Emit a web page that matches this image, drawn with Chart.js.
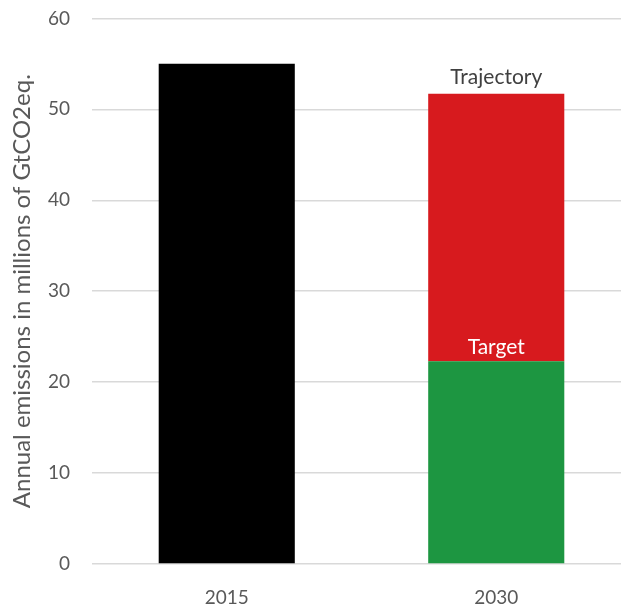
<!DOCTYPE html>
<html>
<head>
<meta charset="utf-8">
<script src="https://cdn.jsdelivr.net/npm/chart.js@4/dist/chart.umd.min.js"></script>
<style>
  html, body { margin: 0; padding: 0; background: #fff; overflow: hidden; }
  #wrap { width: 631px; height: 623px; margin-top: -15px; }
</style>
</head>
<body>
<div id="wrap"><canvas id="chart-area"></canvas></div>
<script>
// emissions per year, GtCO2eq
var years = ["2015", "2030"];
var emissions2015 = [55, null];
var target2030 = [null, 22.3];
var trajectory2030 = [null, 51.7];
var segmentLabels = ["Trajectory", "Target"];
var yTicks = [0, 10, 20, 30, 40, 50, 60];

// red part sits on top of the green target bar
var trajectoryGap = trajectory2030.map(function (v, i) {
    return v === null ? null : v - target2030[i];
});

var fontFamily = "Lato, 'Open Sans', sans-serif";

// writes the two text labels on the 2030 column
var segmentText = {
    id: 'segmentText',
    afterDatasetsDraw: function (chart) {
        var ctx = chart.ctx;
        var bar = chart.getDatasetMeta(2).data[1];
        var green = chart.getDatasetMeta(1).data[1];
        ctx.save();
        ctx.font = "21px " + fontFamily;
        ctx.textAlign = 'center';
        ctx.textBaseline = 'middle';
        ctx.fillStyle = '#404040';
        ctx.fillText(segmentLabels[0], bar.x, bar.y - 17);
        ctx.fillStyle = '#ffffff';
        ctx.fillText(segmentLabels[1], green.x, green.y - 14);
        ctx.restore();
    }
};

var config = {
    type: 'bar',
    data: {
        labels: years,
        datasets: [{
                label: 'Emissions',
                data: emissions2015,
                backgroundColor: "#000000"
            }, {
                label: 'Target',
                data: target2030,
                backgroundColor: "#1D9641"
            }, {
                label: 'Trajectory',
                data: trajectoryGap,
                backgroundColor: "#D71A1E"
            }]
    },
    options: {
        responsive: true,
        maintainAspectRatio: false,
        animation: false,
        layout: {
            padding: { top: 4, right: 0, bottom: 0, left: 0 }
        },
        datasets: {
            bar: {
                barPercentage: 1,
                categoryPercentage: 0.505,
                skipNull: true
            }
        },
        plugins: {
            legend: { display: false },
            tooltip: { enabled: false }
        },
        scales: {
            x: {
                stacked: true,
                grid: { display: false },
                border: { display: false },
                ticks: {
                    color: '#595959',
                    font: { family: fontFamily, size: 19 },
                    padding: 14
                },
                afterFit: function (axis) { axis.height = 44; }
            },
            y: {
                stacked: true,
                min: 0,
                max: 60,
                afterBuildTicks: function (axis) {
                    axis.ticks = yTicks.map(function (v) { return { value: v }; });
                },
                grid: {
                    color: '#D9D9D9',
                    lineWidth: 1.5,
                    drawTicks: false
                },
                border: { display: false },
                ticks: {
                    color: '#595959',
                    font: { family: fontFamily, size: 19 },
                    padding: 22
                },
                title: {
                    display: true,
                    text: 'Annual emissions in millions of GtCO2eq.',
                    color: '#595959',
                    font: { family: fontFamily, size: 24 },
                    padding: { top: 8, bottom: 0 }
                },
                afterFit: function (axis) { axis.width = 92; }
            }
        }
    },
    plugins: [segmentText]
};

var ctx = document.getElementById("chart-area").getContext("2d");
var myBar = new Chart(ctx, config);
</script>
</body>
</html>
